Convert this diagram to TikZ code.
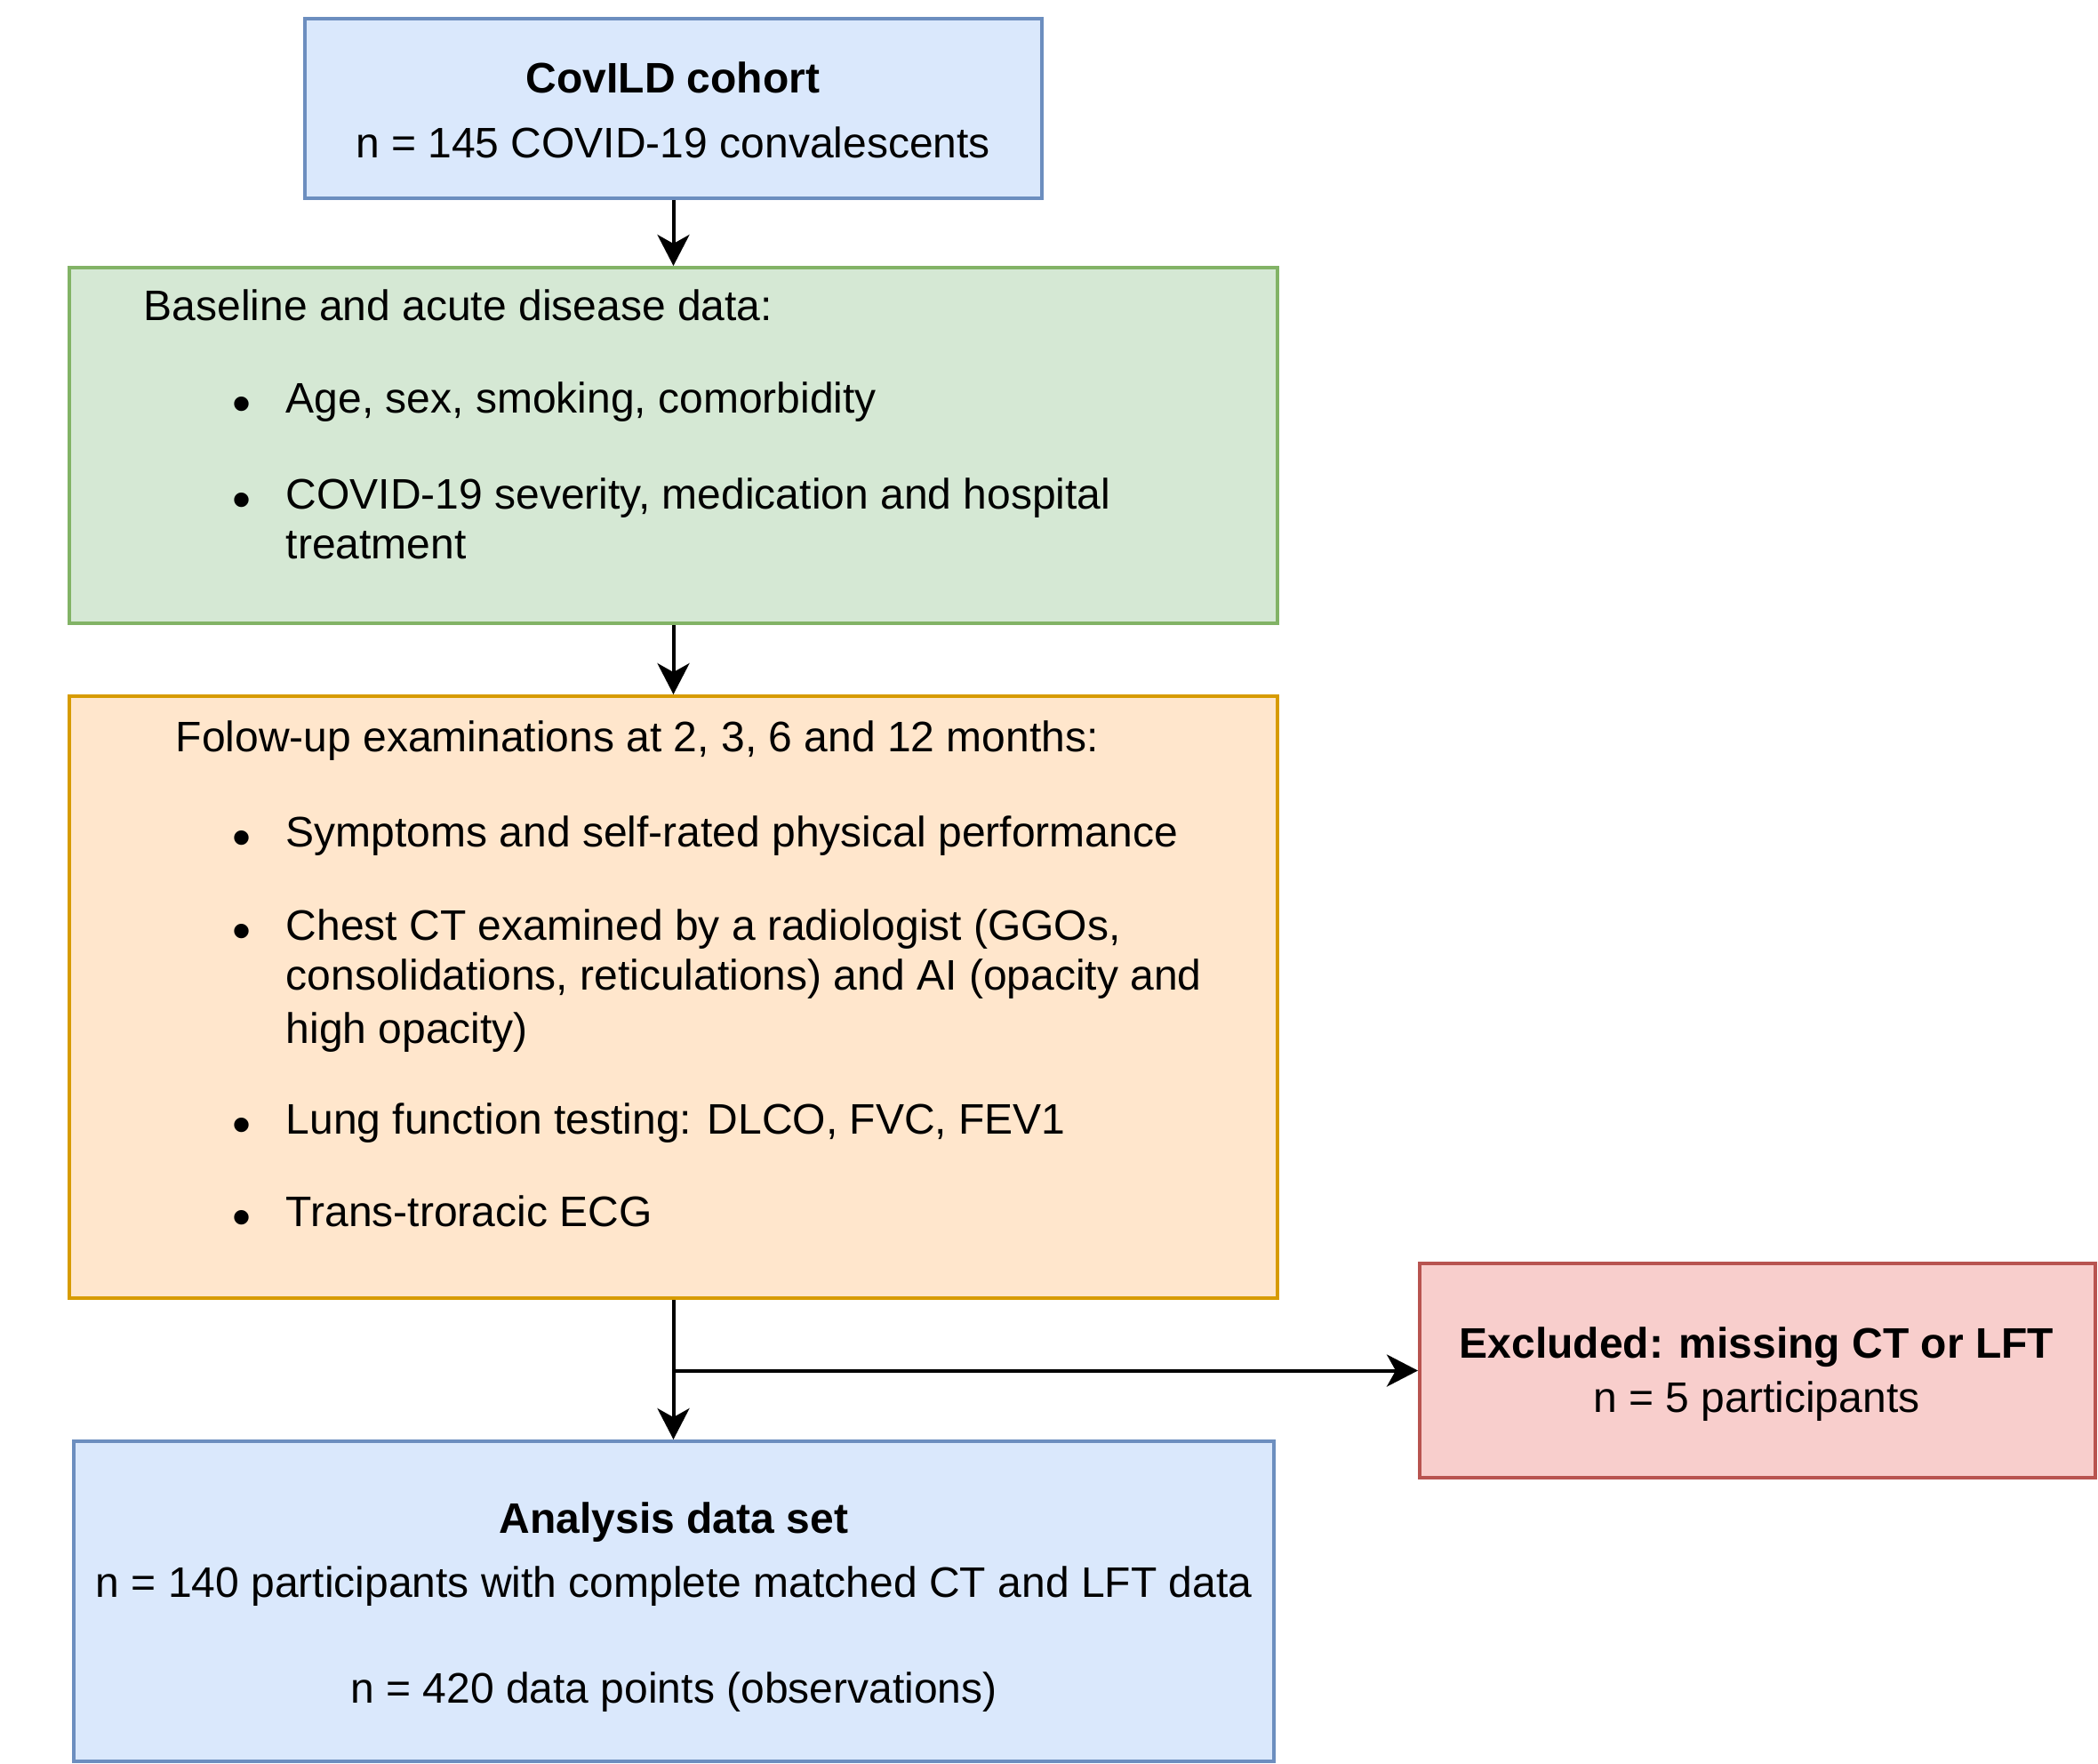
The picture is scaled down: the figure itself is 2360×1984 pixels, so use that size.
\documentclass[tikz,border=0pt]{standalone}
\usepackage{fontspec}
\setmainfont{Liberation Sans}
\usetikzlibrary{arrows.meta,fit}
\definecolor{bluefill}{HTML}{DAE8FC}\definecolor{bluedraw}{HTML}{6C8EBF}
\definecolor{greenfill}{HTML}{D5E8D4}\definecolor{greendraw}{HTML}{82B366}
\definecolor{orangefill}{HTML}{FFE6CC}\definecolor{orangedraw}{HTML}{D79B00}
\definecolor{redfill}{HTML}{F8CECC}\definecolor{reddraw}{HTML}{B85450}
\begin{document}
\begin{tikzpicture}[x=0.25pt,y=-0.25pt,
  box/.style={draw, line width=1pt, inner sep=0pt},
  bluebox/.style={box, fill=bluefill, draw=bluedraw},
  greenbox/.style={box, fill=greenfill, draw=greendraw},
  orangebox/.style={box, fill=orangefill, draw=orangedraw},
  redbox/.style={box, fill=redfill, draw=reddraw},
  txt/.style={inner sep=0pt, font=\fontsize{12}{14.25}\selectfont},
  ctxt/.style={txt, anchor=base},
  ltxt/.style={txt, anchor=base west},
  dot/.style={inner sep=0pt, anchor=base, font=\fontsize{15}{15}\selectfont},
  arr/.style={line width=1pt, -{Stealth[length=8.75pt,width=9pt,inset=2.5pt]}}]
\useasboundingbox (0,0) rectangle (2360,1984);
% boxes
\node[bluebox, fit={(343,21) (1172,223)}] (b1) {};
\node[greenbox, fit={(78,301) (1437,701)}] (b2) {};
\node[orangebox, fit={(78,783) (1437,1460)}] (b3) {};
\node[bluebox, fit={(83,1621) (1433,1981)}] (b4) {};
\node[redbox, fit={(1597,1421) (2357,1662)}] (b5) {};
% box 1 text
\node[ctxt] (t1a) at (757,104) {\textbf{CovILD cohort}};
\node[ctxt] (t1b) at (757,177) {n = 145 COVID-19 convalescents};
% box 2 text
\node[ltxt] (t2) at (161,360) {Baseline and acute disease data:};
\node[dot] (t2d1) at (272,474) {•};
\node[ltxt] (t2i1) at (321,464) {Age, sex, smoking, comorbidity};
\node[dot] (t2d2) at (272,582) {•};
\node[ltxt] (t2i2) at (321,572) {COVID-19 severity, medication and hospital};
\node[ltxt] (t2i2b) at (321,628) {treatment};
% box 3 text
\node[ltxt] (t3) at (197,845) {Folow-up examinations at 2, 3, 6 and 12 months:};
\node[dot] (t3d1) at (272,962) {•};
\node[ltxt] (t3i1) at (321,952) {Symptoms and self-rated physical performance};
\node[dot] (t3d2) at (272,1067) {•};
\node[ltxt] (t3i2) at (321,1057) {Chest CT examined by a radiologist (GGOs,};
\node[ltxt] (t3i2b) at (321,1113) {consolidations, reticulations) and AI (opacity and};
\node[ltxt] (t3i2c) at (321,1173) {high opacity)};
\node[dot] (t3d3) at (272,1285) {•};
\node[ltxt] (t3i3) at (321,1275) {Lung function testing: DLCO, FVC, FEV1};
\node[dot] (t3d4) at (272,1389) {•};
\node[ltxt] (t3i4) at (321,1379) {Trans-troracic ECG};
% box 5 text
\node[ctxt] (t5a) at (1976,1527) {\textbf{Excluded: missing CT or LFT}};
\node[ctxt] (t5b) at (1976,1588) {n = 5 participants};
% box 4 text
\node[ctxt] (t4a) at (758,1724) {\textbf{Analysis data set}};
\node[ctxt] (t4b) at (758,1796) {n = 140 participants with complete matched CT and LFT data};
\node[ctxt] (t4c) at (758,1915) {n = 420 data points (observations)};
% connectors
\draw[arr] (b1.south) -- (b2.north);
\draw[arr] (b2.south) -- (b3.north);
\draw[arr] (b3.south) -- (b3.south |- b4.north);
\coordinate (j) at (b3.south |- b5.west);
\draw[arr] (j) -- (b5.west);
\end{tikzpicture}
\end{document}
